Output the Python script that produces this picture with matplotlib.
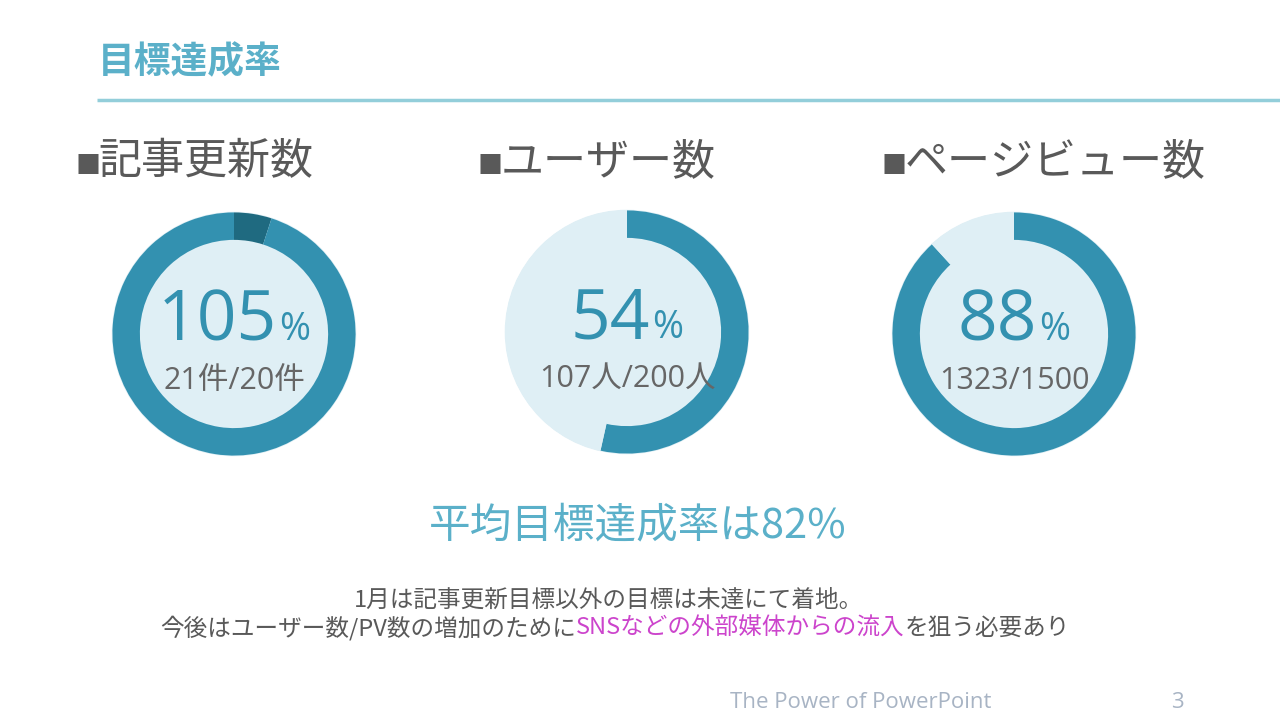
import matplotlib
matplotlib.use("Agg")
import matplotlib.pyplot as plt
from matplotlib.patches import Circle

plt.rcParams['font.family'] = ['Noto Sans CJK JP', 'DejaVu Sans']

# ---- data ----
titles = ["記事更新数", "ユーザー数", "ページビュー数"]
actual = [21, 107, 1323]
target = [20, 200, 1500]
units = ["件", "人", ""]
avg_label = "平均目標達成率は82%"
note_line1 = "1月は記事更新目標以外の目標は未達にて着地。"
note_line2_parts = [("今後はユーザー数/PV数の増加のために", "#595959"),
                    ("SNSなどの外部媒体からの流入", "#CC44CC"),
                    ("を狙う必要あり", "#595959")]

MID = "#3391B0"
DARK = "#1F6A80"
LIGHT = "#DFEFF5"
TEXT = "#595959"
TITLE_C = "#5BB0C9"

W, H = 1280, 720
fig = plt.figure(figsize=(12.8, 7.2), dpi=100)
fig.patch.set_facecolor("white")
bg = fig.add_axes([0, 0, 1, 1])
bg.set_xlim(0, W)
bg.set_ylim(H, 0)
bg.axis("off")

# Title and rule
bg.text(98, 63, "目標達成率", fontsize=26.5, fontweight="bold", color=TITLE_C,
        va="center", ha="left")
bg.plot([97, 1280], [100, 100], color="#93CEDA", lw=2.5, solid_capstyle="butt")

centers = [(234, 334), (627, 332), (1014, 334)]
header_x = [75, 478, 882]
R = 124
ring = 28 / R

fig.canvas.draw()
rend = fig.canvas.get_renderer()

for i in range(3):
    cx, cy = centers[i]
    sq = bg.text(header_x[i], 166, "■", fontsize=18, color=TEXT,
                 va="center", ha="left", family=["Noto Sans CJK JP"])
    fig.canvas.draw()
    sw = sq.get_window_extent(rend).width
    bg.text(header_x[i] + sw - 2, 162, titles[i], fontsize=31, color=TEXT,
            va="center", ha="left")
    ax = fig.add_axes([(cx - R) / W, 1 - (cy + R) / H, 2 * R / W, 2 * R / H])
    ax.set_aspect("equal")
    ax.axis("off")
    ax.add_patch(Circle((0, 0), 1.0, color=LIGHT, zorder=0))
    frac = actual[i] / target[i]
    if frac >= 1:
        over = frac - 1
        vals = [over, 1 - over]
        cols = [DARK, MID]
    else:
        vals = [frac, 1 - frac]
        cols = [MID, LIGHT]
    ax.pie(vals, colors=cols, startangle=90, counterclock=False, radius=1.0,
           wedgeprops=dict(width=ring, linewidth=0))
    ax.set_xlim(-1.02, 1.02)
    ax.set_ylim(-1.02, 1.02)
    pct = round(frac * 100)
    t = ax.text(0, -0.05, f"{pct}", fontsize=50, color=MID, ha="center",
                va="baseline", family=["Open Sans", "DejaVu Sans"])
    p = ax.text(0, -0.05, "%", fontsize=27, color=MID, ha="left",
                va="baseline", family=["Open Sans", "DejaVu Sans"])
    fig.canvas.draw()
    w_num = t.get_window_extent(rend).width
    w_pct = p.get_window_extent(rend).width
    total = w_num + w_pct + 2
    scale = (2 * 1.02) / (2 * R)  # data units per pixel
    left = -total / 2 * scale
    t.set_ha("left")
    t.set_x(left)
    p.set_x(left + (w_num + 2) * scale)
    ax.text(0, -0.45, f"{actual[i]}{units[i]}/{target[i]}{units[i]}",
            fontsize=22, color="#666666", ha="center", va="baseline",
            family=["Open Sans", "Noto Sans CJK JP"])

# average label
bg.text(638, 526, avg_label, fontsize=30, color=TITLE_C, ha="center",
        va="center", family=["Noto Sans CJK JP"])

# notes
bg.text(609, 600, note_line1, fontsize=17, color=TEXT, ha="center", va="center")
texts = []
for s, c in note_line2_parts:
    tt = bg.text(0, 628, s, fontsize=17, color=c, ha="left", va="center")
    texts.append(tt)
fig.canvas.draw()
widths = [tt.get_window_extent(rend).width for tt in texts]
total = sum(widths)
x = 615 - total / 2
for tt, w in zip(texts, widths):
    tt.set_x(x)
    x += w

# footer
bg.text(730, 703, "The Power of PowerPoint", fontsize=16, color="#A8B4C4",
        ha="left", va="center", family=["Open Sans", "DejaVu Sans"])
bg.text(1177, 703, "3", fontsize=16, color="#A8B4C4", ha="center",
        va="center", family=["Open Sans", "DejaVu Sans"])

fig.savefig("out.png", dpi=100)
